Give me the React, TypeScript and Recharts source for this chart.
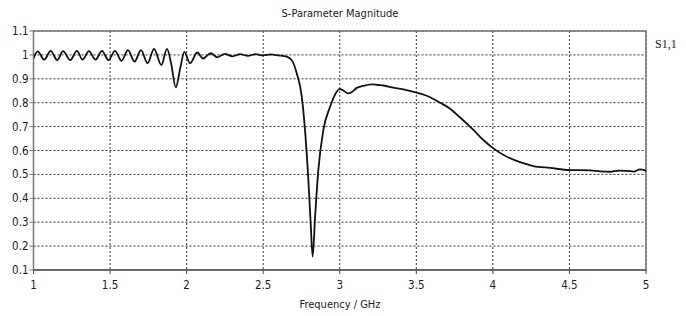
import React from "react";
import {
  CartesianGrid,
  Line,
  LineChart,
  ReferenceArea,
  XAxis,
  YAxis,
} from "recharts";

// frequency points (GHz) and |S1,1|
const freqs = [
  1.0, 1.027, 1.07, 1.112, 1.155, 1.193, 1.24, 1.284, 1.32, 1.362, 1.405,
  1.447, 1.49, 1.532, 1.575, 1.617, 1.66, 1.702, 1.745, 1.787, 1.835, 1.872,
  1.9, 1.929, 1.96, 1.985, 2.022, 2.07, 2.107, 2.157, 2.2, 2.25, 2.3, 2.35,
  2.4, 2.45, 2.5, 2.55, 2.6, 2.654, 2.69, 2.719, 2.752, 2.773, 2.795, 2.81,
  2.823, 2.839, 2.86, 2.893, 2.937, 2.98, 3.0, 3.02, 3.056, 3.08, 3.111, 3.15,
  3.209, 3.25, 3.285, 3.35, 3.437, 3.503, 3.59, 3.655, 3.72, 3.786, 3.873,
  3.938, 4.003, 4.091, 4.178, 4.265, 4.374, 4.504, 4.635, 4.7, 4.765, 4.82,
  4.875, 4.92, 4.96, 5.0,
];
const s11 = [
  0.985, 1.015, 0.98, 1.017, 0.978, 1.016, 0.978, 1.017, 0.98, 1.016, 0.98,
  1.017, 0.978, 1.017, 0.975, 1.02, 0.972, 1.02, 0.965, 1.025, 0.958, 1.025,
  0.96, 0.864, 0.95, 1.013, 0.965, 1.01, 0.985, 1.007, 0.99, 1.004, 0.994,
  1.003, 0.996, 1.003, 0.998, 1.002, 0.998, 0.993, 0.975, 0.923, 0.825, 0.686,
  0.477, 0.297, 0.156, 0.323, 0.518, 0.686, 0.783, 0.846, 0.858, 0.852, 0.839,
  0.845, 0.862, 0.87, 0.877, 0.874, 0.872, 0.863, 0.853, 0.842, 0.823, 0.8,
  0.775, 0.738, 0.686, 0.644, 0.609, 0.574, 0.551, 0.535, 0.527, 0.518, 0.517,
  0.513, 0.511, 0.516, 0.515, 0.512, 0.521, 0.515,
];
const xTicks = [1, 1.5, 2, 2.5, 3, 3.5, 4, 4.5, 5];
const yTicks = [0.1, 0.2, 0.3, 0.4, 0.5, 0.6, 0.7, 0.8, 0.9, 1, 1.1];

const data = freqs.map((f, i) => ({ f, s11: s11[i] }));

const FONT = "'DejaVu Sans Condensed', 'DejaVu Sans', sans-serif";
const tickStyle = { fill: "#1a1a1a", fontSize: 11.5, fontFamily: FONT };

export default function App() {
  return (
    <div
      style={{
        position: "absolute",
        top: 0,
        left: 0,
        width: 686,
        height: 316,
        background: "#fff",
      }}
    >
      <LineChart
        width={686}
        height={316}
        data={data}
        margin={{ top: 31, right: 40, left: 0.5, bottom: 16 }}
      >
        <CartesianGrid stroke="#333" strokeDasharray="2 2" />
        <XAxis
          type="number"
          dataKey="f"
          domain={[1, 5]}
          ticks={xTicks}
          height={30}
          tick={tickStyle}
          tickSize={4}
          tickMargin={7}
          stroke="#444"
          allowDataOverflow
        />
        <YAxis
          type="number"
          domain={[0.1, 1.1]}
          ticks={yTicks}
          width={33}
          tick={tickStyle}
          tickSize={4}
          tickMargin={1}
          stroke="#777"
          allowDataOverflow
        />
        <ReferenceArea
          x1={1}
          x2={5}
          y1={0.1}
          y2={1.1}
          fill="none"
          fillOpacity={0}
          stroke="#777"
          strokeWidth={1.5}
        />
        <Line
          type="monotone"
          dataKey="s11"
          stroke="#111"
          strokeWidth={1.8}
          dot={false}
          isAnimationActive={false}
        />
      </LineChart>
      {/* 標題・ラベル */}
      <div
        style={{
          position: "absolute",
          zIndex: 2,
          left: 0,
          width: 680,
          top: 7,
          textAlign: "center",
          fontFamily: FONT,
          fontSize: 11,
          color: "#1a1a1a",
        }}
      >
        S-Parameter Magnitude
      </div>
      <div
        style={{
          position: "absolute",
          zIndex: 2,
          left: 655,
          top: 37,
          fontFamily: "'Liberation Serif', serif",
          fontSize: 12,
          color: "#1a1a1a",
        }}
      >
        S1,1
      </div>
      <div
        style={{
          position: "absolute",
          zIndex: 2,
          left: 0,
          width: 680,
          top: 298,
          lineHeight: "14px",
          textAlign: "center",
          fontFamily: FONT,
          fontSize: 11,
          color: "#1a1a1a",
        }}
      >
        Frequency / GHz
      </div>
    </div>
  );
}
